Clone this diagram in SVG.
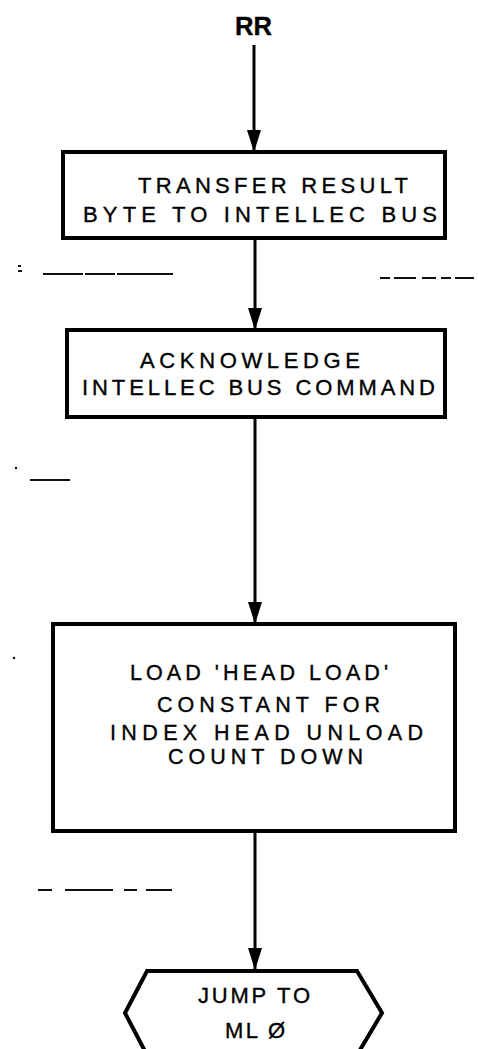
<svg xmlns="http://www.w3.org/2000/svg" width="478" height="1049" viewBox="0 0 478 1049">
<style>
.box{fill:#fff;stroke:#000;stroke-width:4}
.t{font-family:"Liberation Sans",Arial,sans-serif;font-size:22px;fill:#000;stroke:#000;stroke-width:0.35}
.s{font-size:21.5px}
.conn{stroke:#000;stroke-width:3;fill:none}
.mark{stroke:#111;stroke-width:2;fill:none}
</style>
<defs>
<marker id="ah" viewBox="0 0 22 14" refX="22" refY="7" markerWidth="22" markerHeight="14" markerUnits="userSpaceOnUse" orient="auto">
<path d="M0,0 L22,7 L0,14 Z" fill="#000"/>
</marker>
</defs>
<rect width="478" height="1049" fill="#fff"/>
<g id="scan-marks">
<line class="mark" x1="43" y1="274" x2="173" y2="274" stroke-dasharray="40 2 30 2 58"/>
<line class="mark" x1="18" y1="266" x2="21" y2="266"/>
<line class="mark" x1="18" y1="271" x2="22" y2="271"/>
<line class="mark" x1="380" y1="278" x2="474" y2="278" stroke-dasharray="10 4 22 6 14 5"/>
<line class="mark" x1="30" y1="480" x2="70" y2="480"/>
<circle cx="16" cy="468" r="1.2" fill="#111"/>
<circle cx="14" cy="658" r="1.2" fill="#111"/>
<line class="mark" x1="38" y1="890" x2="172" y2="890" stroke-dasharray="14 13 48 11 13 9 26"/>
</g>
<g id="start-RR">
<text x="235" y="35" class="t" style="font-weight:bold;font-size:26px" textLength="37" lengthAdjust="spacingAndGlyphs">RR</text>
</g>
<g id="connectors">
<line class="conn" x1="254" y1="45" x2="254" y2="152" marker-end="url(#ah)"/>
<line class="conn" x1="255" y1="238" x2="255" y2="330" marker-end="url(#ah)"/>
<line class="conn" x1="255" y1="417" x2="255" y2="624" marker-end="url(#ah)"/>
<line class="conn" x1="255" y1="831" x2="255" y2="970" marker-end="url(#ah)"/>
</g>
<g id="node-transfer">
<rect class="box" x="63" y="152" width="382" height="86"/>
<text class="t" x="138" y="193" textLength="270" lengthAdjust="spacing">TRANSFER RESULT</text>
<text class="t" x="83" y="222" textLength="354" lengthAdjust="spacing">BYTE TO INTELLEC BUS</text>
</g>
<g id="node-acknowledge">
<rect class="box" x="67" y="330" width="378" height="87"/>
<text class="t" x="140" y="368" textLength="220" lengthAdjust="spacing">ACKNOWLEDGE</text>
<text class="t" x="82" y="395" textLength="353" lengthAdjust="spacing">INTELLEC BUS COMMAND</text>
</g>
<g id="node-load">
<rect class="box" x="53" y="624" width="402" height="207"/>
<text class="t s" x="130" y="680" textLength="258" lengthAdjust="spacing">LOAD 'HEAD LOAD'</text>
<text class="t s" x="157" y="712" textLength="223" lengthAdjust="spacing">CONSTANT FOR</text>
<text class="t s" x="110" y="740" textLength="313" lengthAdjust="spacing">INDEX HEAD UNLOAD</text>
<text class="t s" x="168" y="764" textLength="195" lengthAdjust="spacing">COUNT DOWN</text>
</g>
<g id="node-jump">
<polygon class="box" points="147,971 357,971 382,1013 357,1055 147,1055 125,1013"/>
<text class="t" x="198" y="1003" textLength="112" lengthAdjust="spacing">JUMP TO</text>
<text class="t" x="225" y="1038" textLength="60" lengthAdjust="spacing">ML Ø</text>
</g>
</svg>
